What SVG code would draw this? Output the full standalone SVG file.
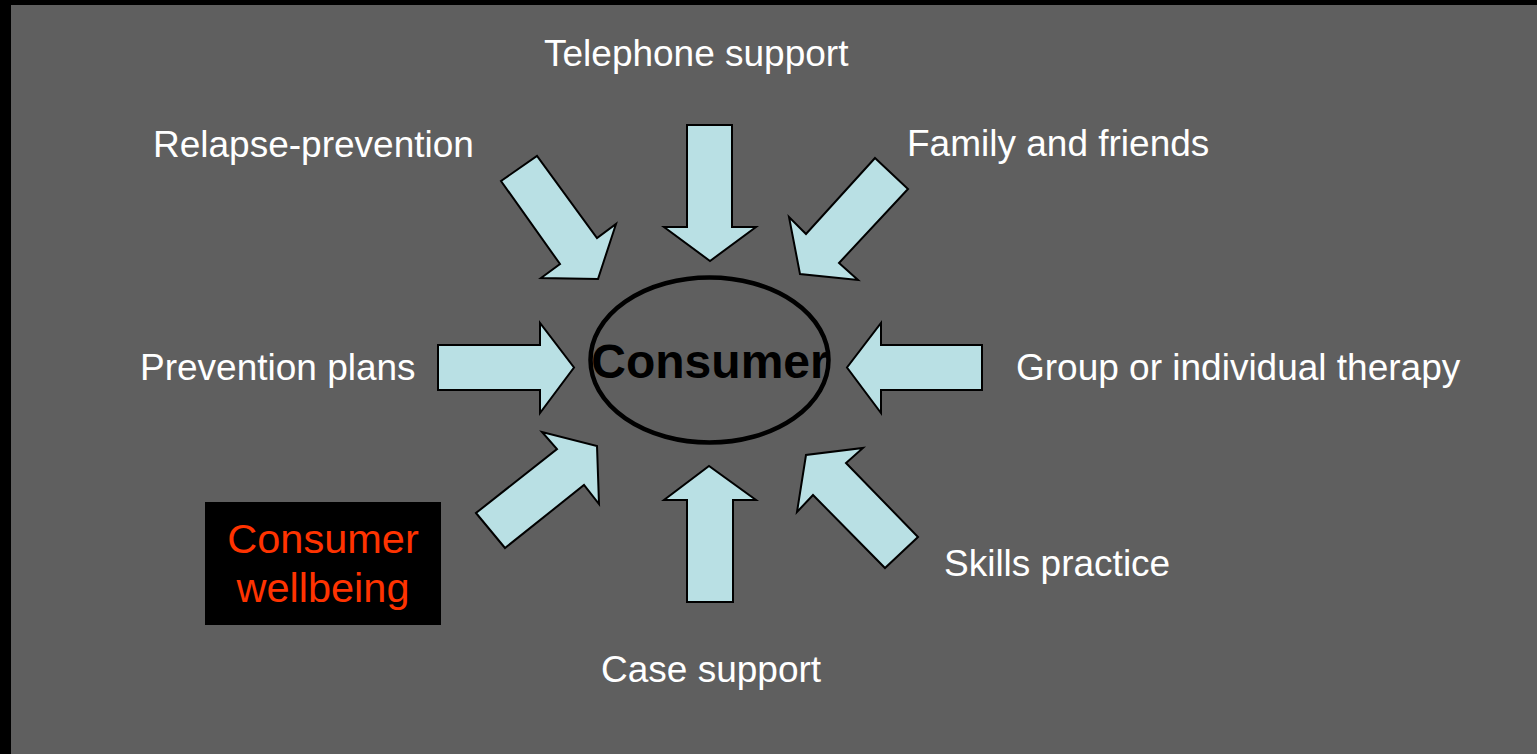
<svg xmlns="http://www.w3.org/2000/svg" width="1537" height="754" viewBox="0 0 1537 754">
<style>
.lbl{font-family:"Liberation Sans",Arial,sans-serif;font-size:37px;fill:#FFFFFF}
.arr{fill:#B9E0E4;stroke:#000000;stroke-width:2;stroke-linejoin:miter}
.core{font-family:"Liberation Sans",Arial,sans-serif;font-size:48px;font-weight:bold;fill:#000000}
.well{font-family:"Liberation Sans",Arial,sans-serif;font-size:41.5px;fill:#FF3300}
</style>
<rect x="0" y="0" width="1537" height="754" fill="#000000"/>
<rect x="11" y="5" width="1526" height="749" fill="#5F5F5F"/>
<g id="connectors">
<polygon class="arr" points="501,181 537,156 597,238 616,224 598,279 541,278 560,264"/>
<polygon class="arr" points="687,125 732,125 732,227 756,227 710,261 664,227 687,227"/>
<polygon class="arr" points="875,158 908,189 839,263 858,280 800,274 789,217 806,234"/>
<polygon class="arr" points="438,345 540,345 540,323 574,367.5 540,413 540,390 438,390"/>
<polygon class="arr" points="982,345 881,345 881,323 847,367.5 881,413 881,390 982,390"/>
<polygon class="arr" points="476,513 505,548 584,485 599,504 597,446 542,432 557,449"/>
<polygon class="arr" points="687,602 733,602 733,500 756,500 709,466 664,500 687,500"/>
<polygon class="arr" points="918,537 885,568 813,495 797,512 806,455 863,448 846,463"/>
</g>
<g id="consumer">
<ellipse cx="709.5" cy="360" rx="119" ry="82.5" fill="none" stroke="#000000" stroke-width="4.5"/>
<text class="core" x="710" y="378" text-anchor="middle">Consumer</text>
</g>
<g id="telephone-support"><text class="lbl" x="544" y="66">Telephone support</text></g>
<g id="relapse-prevention"><text class="lbl" x="153" y="157">Relapse-prevention</text></g>
<g id="family-and-friends"><text class="lbl" x="907" y="156">Family and friends</text></g>
<g id="prevention-plans"><text class="lbl" x="140" y="380">Prevention plans</text></g>
<g id="group-therapy"><text class="lbl" x="1016" y="380">Group or individual therapy</text></g>
<g id="skills-practice"><text class="lbl" x="944" y="576">Skills practice</text></g>
<g id="case-support"><text class="lbl" x="601" y="682">Case support</text></g>
<g id="consumer-wellbeing">
<rect x="205" y="502" width="236" height="123" fill="#000000"/>
<text class="well" x="323" y="553" text-anchor="middle">Consumer</text>
<text class="well" x="323" y="602" text-anchor="middle">wellbeing</text>
</g>
</svg>
